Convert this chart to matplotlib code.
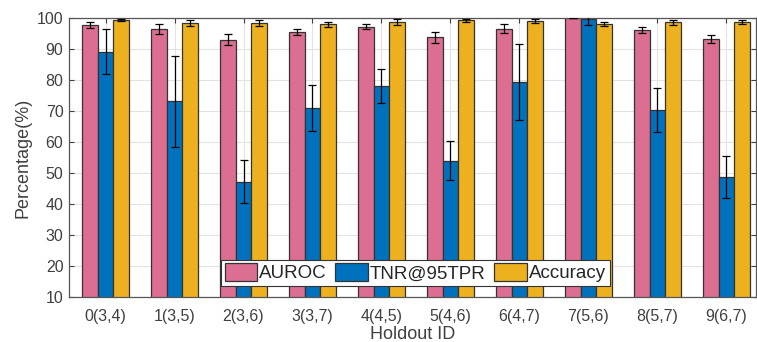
import numpy as np
import matplotlib
matplotlib.use("Agg")
import matplotlib.pyplot as plt

# --- data ---
holdouts = ["0(3,4)", "1(3,5)", "2(3,6)", "3(3,7)", "4(4,5)",
            "5(4,6)", "6(4,7)", "7(5,6)", "8(5,7)", "9(6,7)"]
auroc = [97.8, 96.5, 93.0, 95.5, 97.2, 93.8, 96.6, 100.0, 96.2, 93.3]
auroc_err = [0.9, 1.7, 1.7, 1.0, 0.8, 1.8, 1.5, 0.1, 1.0, 1.3]
tnr = [89.1, 73.1, 47.2, 71.0, 78.0, 54.0, 79.4, 99.8, 70.3, 48.7]
tnr_err = [7.2, 14.7, 6.9, 7.5, 5.5, 6.3, 12.3, 2.0, 7.0, 6.9]
acc = [99.4, 98.3, 98.4, 98.0, 98.8, 99.2, 99.0, 98.0, 98.7, 98.7]
acc_err = [0.3, 0.9, 0.9, 0.75, 0.9, 0.6, 0.6, 0.7, 0.8, 0.6]

series = [("AUROC", auroc, auroc_err, "#DB6E91"),
          ("TNR@95TPR", tnr, tnr_err, "#0072BD"),
          ("Accuracy", acc, acc_err, "#EDB120")]

plt.rcParams["font.family"] = ["Liberation Sans", "DejaVu Sans"]
text_col = "#404040"

fig = plt.figure(figsize=(7.57, 3.42), dpi=100)
ax = fig.add_axes([69 / 757, 1 - 297 / 342, 687 / 757, 279 / 342])

x = np.arange(len(holdouts))
w = 0.227
for i, (name, vals, errs, col) in enumerate(series):
    pos = x + (i - 1) * w
    ax.bar(pos, vals, width=w, color=col, edgecolor="#333333",
           linewidth=0.9, label=name, zorder=2)
    ax.errorbar(pos, vals, yerr=errs, fmt="none", ecolor="black",
                elinewidth=0.9, capsize=2.6, capthick=0.9, zorder=3)

# --- axes styling (MATLAB-like box) ---
ax.set_ylim(10, 100)
ax.set_xlim(-0.53, 9.43)
ax.set_yticks(np.arange(10, 101, 10))
ax.set_xticks(x)
ax.set_xticklabels(holdouts)
ax.grid(True, color="#e3e3e3", linewidth=0.8, zorder=0)
ax.set_axisbelow(True)
ax.tick_params(direction="in", length=3.5, width=0.8, top=True, right=True,
               labelsize=11.5, colors=text_col)
ax.tick_params(axis="x", pad=9)
ax.tick_params(axis="y", pad=4)
for s in ax.spines.values():
    s.set_color("#555555")
    s.set_linewidth(0.9)

ax.set_ylabel("Percentage(%)", fontsize=13, color=text_col, labelpad=4)
ax.set_xlabel("Holdout ID", fontsize=13, color=text_col, labelpad=1)

leg = ax.legend(loc="lower left", bbox_to_anchor=(0.221, 0.039), ncol=3,
                fontsize=13.5, frameon=True, fancybox=False, borderaxespad=0,
                handlelength=1.75, handleheight=1.05, handletextpad=0.1,
                columnspacing=0.45, borderpad=0.2)
leg.get_frame().set_edgecolor("#333333")
leg.get_frame().set_linewidth(0.8)
leg.get_frame().set_alpha(1.0)
for t in leg.get_texts():
    t.set_color("#262626")

fig.savefig("out.png", dpi=100)
